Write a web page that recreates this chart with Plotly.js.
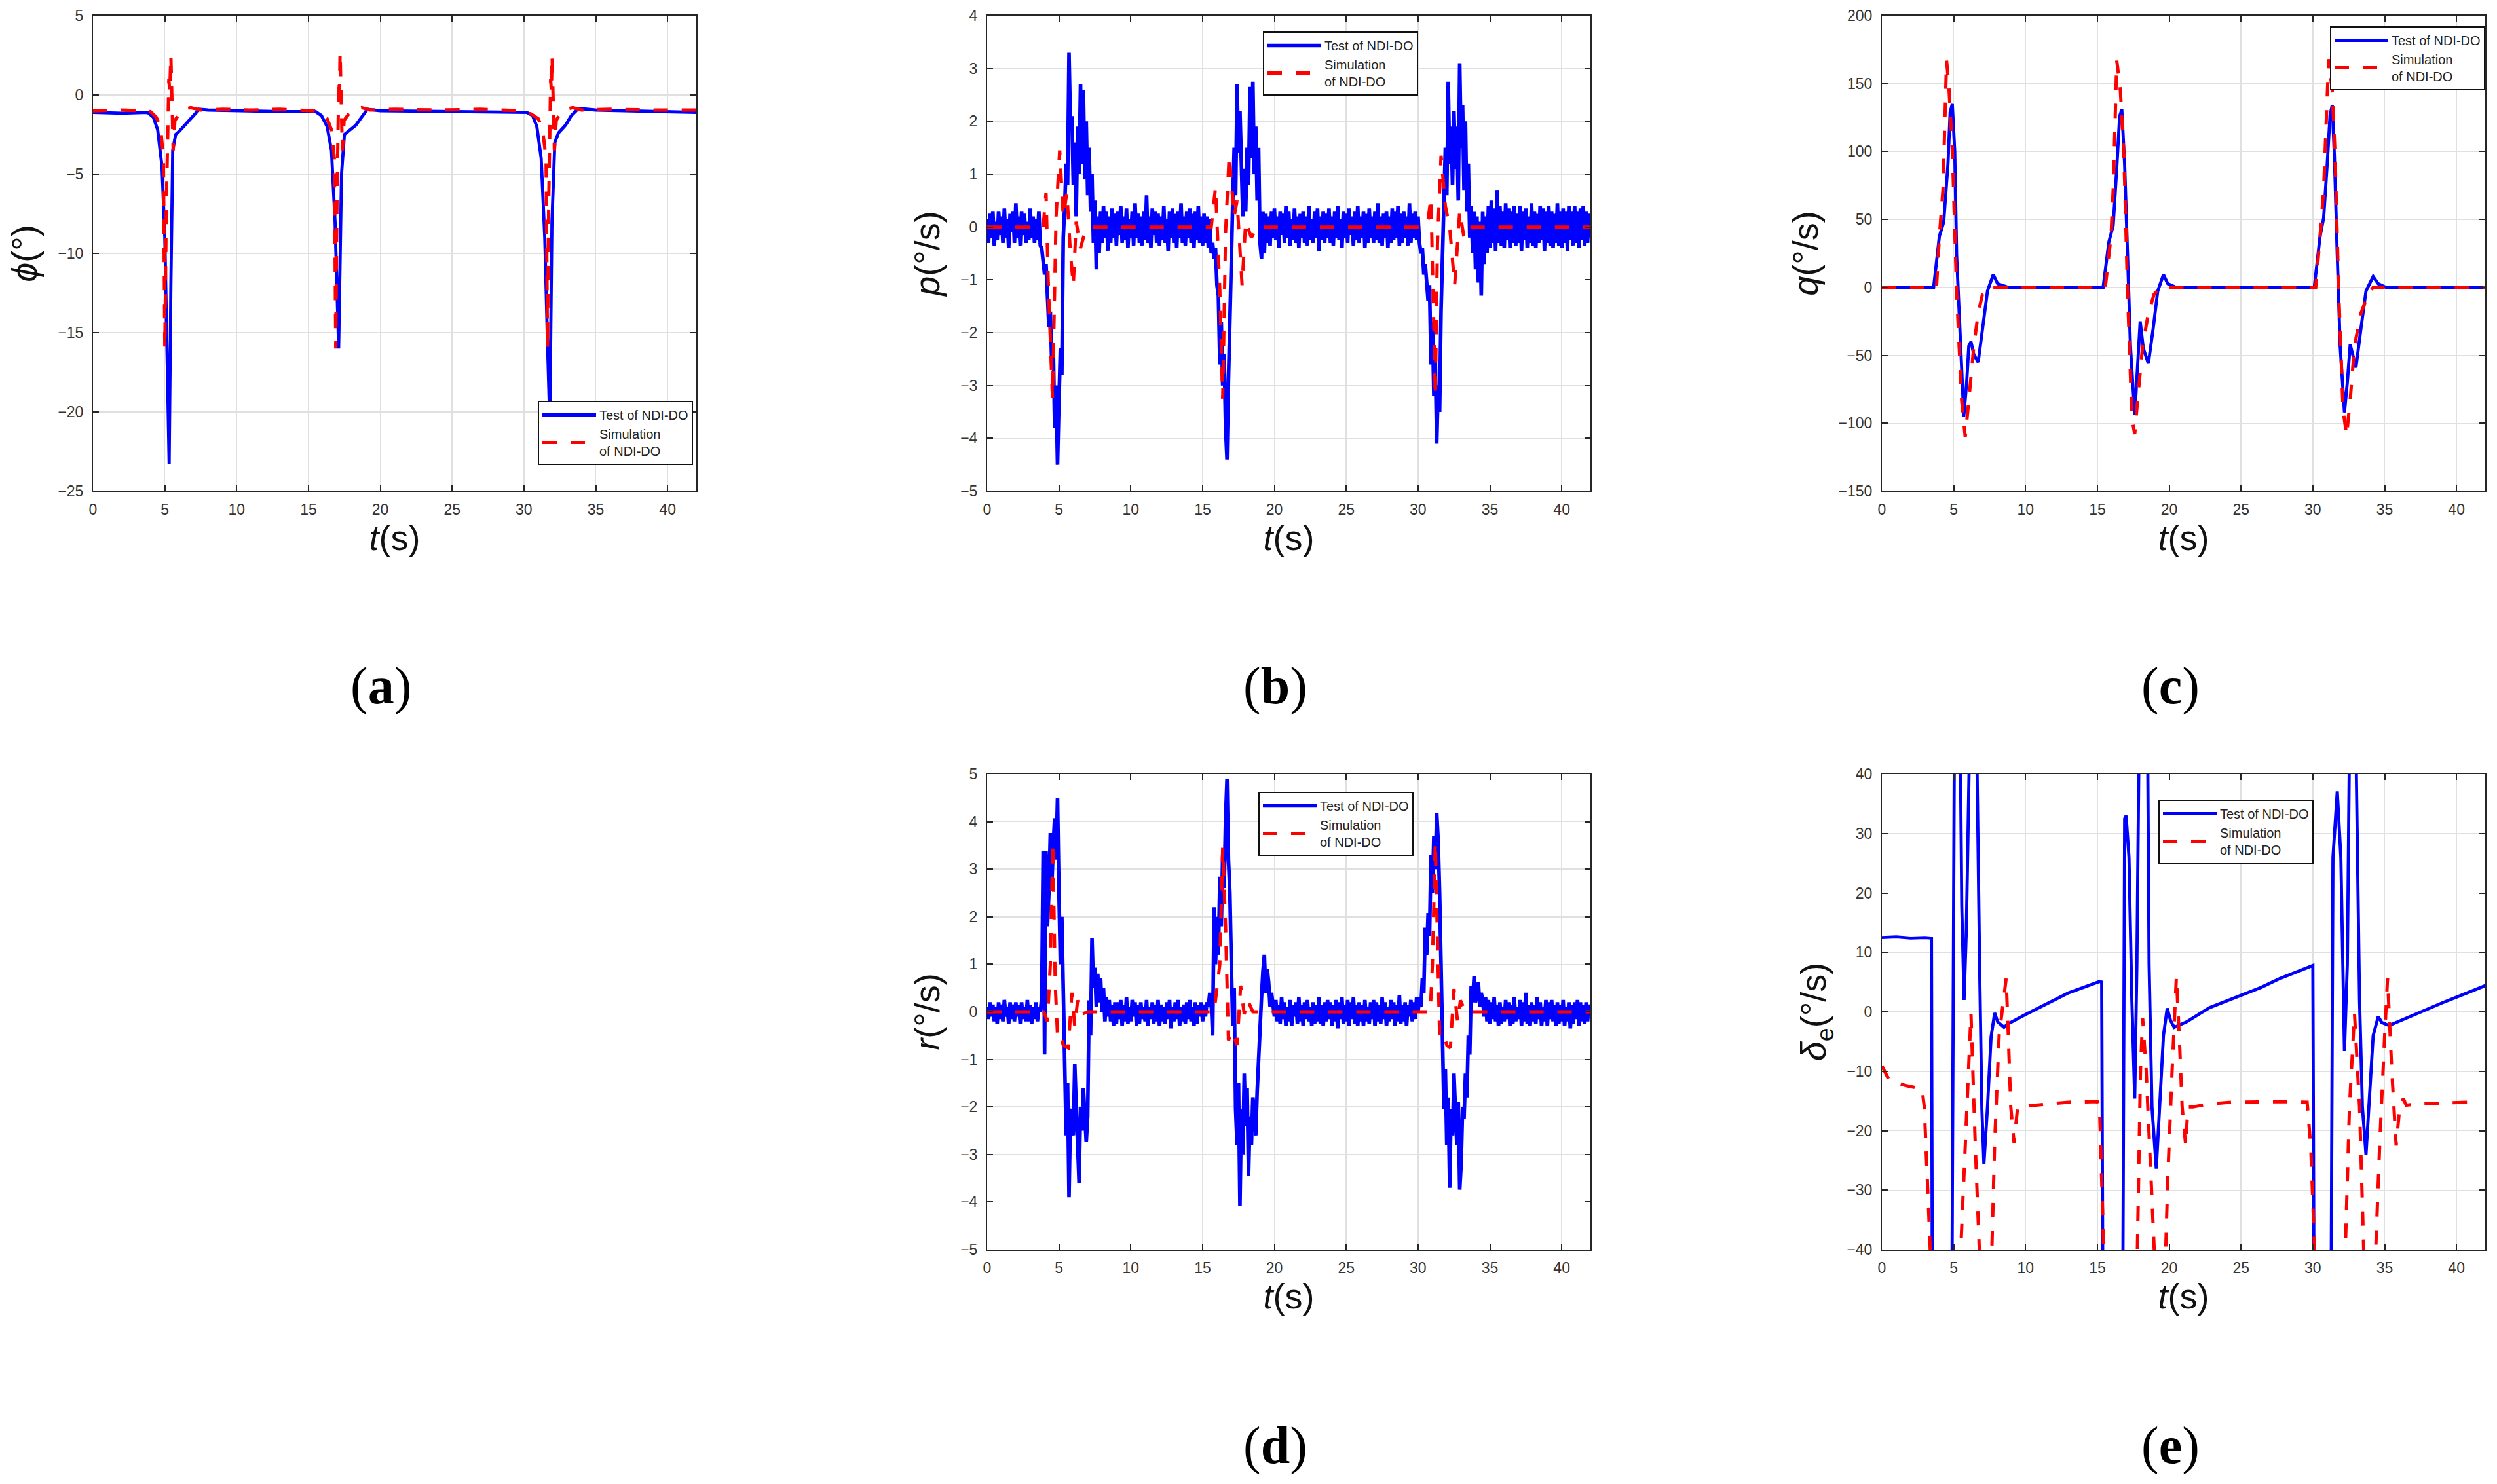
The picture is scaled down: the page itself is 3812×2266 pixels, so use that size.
<!DOCTYPE html>
<html><head><meta charset="utf-8">
<script src="https://cdn.plot.ly/plotly-3.0.1.min.js"></script>
<style>html,body{margin:0;padding:0;background:#fff;}#chart{width:3812px;height:2266px;}</style>
</head><body><div id="chart"></div>
<script>
// ---------------- DATA ----------------
const seriesNames = ['Test of NDI-DO', 'Simulation<br>of NDI-DO'];
const captions = ['a', 'b', 'c', 'd', 'e'];
const tTicks = [0, 5, 10, 15, 20, 25, 30, 35, 40];
const phiTicks = [-25, -20, -15, -10, -5, 0, 5];
const pTicks = [-5, -4, -3, -2, -1, 0, 1, 2, 3, 4];
const qTicks = [-150, -100, -50, 0, 50, 100, 150, 200];
const rTicks = [-5, -4, -3, -2, -1, 0, 1, 2, 3, 4, 5];
const deTicks = [-40, -30, -20, -10, 0, 10, 20, 30, 40];

// (a) roll angle phi
const phiTestT = [0,2,3.8,4.2,4.5,4.8,5.0,5.15,5.3,5.42,5.55,5.75,6.0,6.4,6.9,7.4,8,10,13,15.5,15.9,16.3,16.6,16.85,17.1,17.3,17.5,17.9,18.3,18.7,19.1,20,25,30.2,30.6,30.9,31.2,31.45,31.65,31.8,31.95,32.15,32.4,32.9,33.3,33.8,35,38,42];
const phiTestV = [-1.1,-1.15,-1.1,-1.4,-2.2,-4.5,-9,-16,-23.3,-12,-3.5,-2.5,-2.3,-1.9,-1.4,-0.9,-0.95,-1.0,-1.05,-1.05,-1.3,-2.0,-3.5,-8,-16,-5,-2.5,-2.2,-1.9,-1.4,-0.9,-1.0,-1.05,-1.1,-1.3,-2.0,-4.0,-9,-16,-20.6,-8,-3,-2.4,-1.9,-1.3,-0.85,-0.95,-1.0,-1.1];
const phiSimT = [0,2,3.5,4.0,4.4,4.7,4.9,5.0,5.1,5.2,5.28,5.34,5.42,5.5,5.58,5.7,6.0,6.4,6.8,7.5,9,11,13,15.4,15.9,16.3,16.6,16.8,16.9,16.98,17.05,17.11,17.16,17.2,17.28,17.36,17.48,17.8,18.2,18.7,19.3,21,24,27,29.9,30.5,31.0,31.3,31.54,31.64,31.72,31.8,31.86,31.91,31.96,32.04,32.12,32.25,32.5,32.9,33.4,34,36,39,42];
const phiSimV = [-1.0,-0.95,-1.0,-1.05,-1.4,-2.0,-4,-16,-7,-1,1.0,0.2,2.5,-0.5,-3.5,-1.6,-1.2,-0.9,-0.8,-0.95,-0.9,-0.95,-0.9,-1.0,-1.2,-1.5,-2.2,-4,-16,-7,-1,1.0,0.2,2.7,-0.5,-3.5,-1.6,-1.2,-0.9,-0.8,-0.95,-0.9,-0.95,-0.9,-1.0,-1.2,-1.5,-2.2,-4,-16,-7,-1,1.0,0.2,2.5,-0.5,-3.5,-1.6,-1.2,-0.9,-0.8,-0.95,-0.9,-0.95,-0.95];

// (b) roll rate p, test sampled every 0.1 s from t = 0
const pTestV = [
 0.15,-0.3,0.25,-0.2,0.3,-0.35,0.1,-0.25,0.3,-0.15,
 0.2,-0.3,0.35,-0.2,0.15,-0.4,0.25,-0.1,0.3,-0.3,
 0.45,-0.2,0.2,-0.35,0.3,-0.15,0.25,-0.3,0.1,-0.25,
 0.35,-0.2,0.2,-0.3,0.15,-0.25,0.3,-0.35,-0.4,-0.6,
 -0.9,-0.7,-1.3,-1.9,-1.6,-2.6,-2.2,-3.8,-3.0,-4.5,
 -3.3,-2.3,-2.8,-0.2,0.4,1.2,0.8,3.3,1.9,2.1,
 0.8,1.6,0.2,1.9,1.0,2.7,1.2,2.6,0.9,2.0,
 0.6,1.5,0.3,1.0,-0.3,0.5,-0.8,0.2,-0.5,0.3,
 -0.3,0.4,-0.2,0.3,-0.45,0.2,-0.3,0.35,-0.2,0.25,
 -0.35,0.3,-0.15,0.4,-0.3,0.2,-0.25,0.35,-0.4,0.15,
 -0.2,0.3,-0.35,0.45,-0.2,0.25,-0.3,0.2,-0.35,0.3,
 -0.25,0.6,-0.3,0.2,-0.4,0.35,-0.15,0.3,-0.3,0.25,
 -0.35,0.2,-0.25,0.4,-0.3,0.15,-0.45,0.3,-0.2,0.35,
 -0.3,0.25,-0.4,0.3,-0.2,0.45,-0.3,0.2,-0.35,0.3,
 -0.2,0.35,-0.3,0.25,-0.4,0.3,-0.25,0.4,-0.3,0.2,
 -0.35,0.25,-0.3,0.2,-0.4,0.15,-0.5,-0.3,-0.6,-0.4,
 -1.1,-1.3,-2.6,-1.8,-3.0,-2.4,-3.8,-4.4,-2.9,-1.5,
 -0.6,0.5,1.5,0.6,2.7,1.4,2.2,0.9,0.2,1.1,
 0.3,1.5,0.8,2.65,1.3,2.75,1.0,1.9,0.5,1.5,
 -0.3,-0.6,0.3,-0.5,0.25,-0.3,0.2,-0.35,0.3,-0.2,
 0.35,-0.25,0.2,-0.4,0.3,-0.15,0.25,-0.3,0.4,-0.2,
 0.3,-0.35,0.15,-0.25,0.35,-0.3,0.2,-0.4,0.25,-0.2,
 0.3,-0.3,0.2,-0.35,0.4,-0.25,0.15,-0.3,0.3,-0.2,
 0.35,-0.45,0.2,-0.25,0.3,-0.3,0.25,-0.2,0.35,-0.3,
 0.2,-0.35,0.3,-0.2,0.4,-0.25,0.15,-0.4,0.3,-0.2,
 0.25,-0.3,0.35,-0.15,0.2,-0.35,0.3,-0.25,0.4,-0.3,
 0.2,-0.2,0.3,-0.4,0.25,-0.3,0.35,-0.2,0.2,-0.3,
 0.3,-0.25,0.45,-0.3,0.2,-0.35,0.25,-0.2,0.3,-0.4,
 0.2,-0.3,0.35,-0.25,0.3,-0.2,0.4,-0.35,0.25,-0.3,
 0.3,-0.2,0.2,-0.35,0.45,-0.3,0.25,-0.2,0.3,-0.25,
 0.2,-0.3,-0.5,-0.4,-0.9,-0.7,-1.2,-1.4,-1.1,-2.6,
 -1.8,-3.2,-2.5,-4.1,-3.0,-3.5,-1.6,-0.4,0.8,1.5,
 0.6,2.75,1.2,1.9,0.8,2.2,1.1,1.9,0.5,3.1,
 1.5,2.3,0.7,2.0,0.3,1.2,-0.2,0.4,-0.5,0.3,
 -0.8,0.2,-1.05,0.1,-1.3,0.3,-0.7,0.2,-0.5,0.4,
 -0.4,0.5,-0.3,0.35,-0.45,0.7,-0.3,0.4,-0.35,0.3,
 -0.4,0.45,-0.25,0.35,-0.4,0.3,-0.3,0.4,-0.35,0.25,
 -0.3,0.4,-0.45,0.3,-0.25,0.35,-0.4,0.2,-0.3,0.45,
 -0.35,0.3,-0.4,0.25,-0.3,0.4,-0.25,0.35,-0.45,0.3,
 -0.3,0.4,-0.35,0.3,-0.4,0.25,-0.3,0.45,-0.35,0.3,
 -0.4,0.35,-0.3,0.3,-0.45,0.4,-0.25,0.3,-0.35,0.4,
 -0.3,0.3,-0.4,0.35,-0.25,0.4,-0.35,0.3,-0.3,0.25,
 -0.2];
const pSimT = [0,3.9,4.1,4.25,4.55,4.8,5.05,5.3,5.55,5.8,6.0,6.2,6.5,6.8,7.2,7.6,15.6,15.9,16.2,16.4,16.6,16.85,17.2,17.4,17.75,18.0,18.4,18.8,30.4,30.7,30.9,31.2,31.35,31.6,31.9,32.2,32.55,32.9,33.2,33.6,42];
const pSimV = [0,0,0.65,-1.0,-3.25,0.2,1.45,0.2,0.65,-0.5,-1.1,0.1,-0.4,-0.1,0,0,0,0.75,-1.2,-3.25,-0.1,1.35,0.2,0.5,-1.1,0.1,-0.2,0,0,0.15,0.55,-3.2,-0.3,1.35,0.4,0,-1.1,0.3,-0.2,0,0];

// (c) pitch rate q
const qTestT = [0,3.6,4.0,4.3,4.6,4.75,4.9,5.07,5.2,5.5,5.7,5.9,6.05,6.2,6.4,6.7,7.0,7.35,7.75,8.06,8.8,15.4,15.8,16.1,16.35,16.55,16.7,16.9,17.1,17.3,17.6,17.8,17.98,18.2,18.55,18.9,19.2,19.6,19.9,20.5,30.1,30.5,30.75,31.0,31.2,31.35,31.5,31.7,31.9,32.2,32.4,32.6,32.8,33.0,33.35,33.7,34.2,34.55,35.1,42];
const qTestV = [0,0,37.6,48,91,129,135,100,24,-56,-95,-70,-43,-40,-49.5,-55,-30,-2.6,9.4,2.7,0,0,33.5,45.6,88,126,131,90,24,-43,-94,-60,-25,-45,-56,-29,-2.7,9.4,2.7,0,0,37.5,51,91,127,134,97,24,-43,-92,-70,-42,-51,-59,-30,-2.7,8,2.7,0,0];
const qSimT = [0,3.8,4.0,4.25,4.5,4.65,4.9,5.2,5.55,5.8,6.05,6.4,6.7,7.0,7.35,15.55,15.95,16.1,16.35,16.6,16.85,17.1,17.4,17.6,17.8,18.15,18.55,18.95,19.4,30.2,30.5,30.75,31.1,31.35,31.55,31.8,32.1,32.35,32.6,32.9,33.35,33.85,34.2,42];
const qSimV = [0,0,37.5,72,167,150,102,-3,-83,-110,-83,-43,-19,-5,0,0,37.5,72,167,145,97,-3,-96,-108,-83,-43,-19,-5,0,0,37.5,72,168,145,97,-3,-90,-109,-83,-43,-19,-5,0,0];

// (d) yaw rate r, test sampled every 0.1 s from t = 0
const rTestV = [
 0.1,-0.15,0.2,-0.1,0.15,-0.2,0.1,-0.25,0.2,-0.15,
 0.15,-0.2,0.25,-0.1,0.1,-0.25,0.2,-0.15,0.15,-0.2,
 0.2,-0.1,0.15,-0.25,0.2,-0.15,0.1,-0.2,0.25,-0.2,
 0.15,-0.25,0.1,-0.15,0.2,-0.2,0.1,0.0,0.3,3.38,
 -0.9,3.38,1.8,2.5,3.76,2.6,3.5,4.07,3.2,4.5,
 2.5,1.0,2.0,0.2,-0.5,-2.6,-1.5,-3.9,-2.1,-2.05,
 -2.6,-1.1,-2.0,-2.8,-3.6,-2.0,-2.5,-1.6,-2.05,-2.74,
 -2.2,0.24,-0.5,1.55,0.5,0.93,0.1,0.8,0.2,0.7,
 0.0,0.5,-0.2,0.3,-0.1,0.25,-0.2,0.15,-0.3,0.2,
 -0.25,0.2,-0.15,0.25,-0.3,0.15,-0.2,0.3,-0.25,0.1,
 -0.2,0.25,-0.1,0.2,-0.3,0.15,-0.25,0.2,-0.15,0.1,
 -0.2,0.25,-0.3,0.1,-0.15,0.2,-0.25,0.15,-0.2,0.25,
 -0.3,0.15,-0.2,0.1,-0.25,0.2,-0.15,0.25,-0.35,0.1,
 -0.2,0.2,-0.15,0.25,-0.3,0.1,-0.2,0.15,-0.25,0.2,
 -0.15,0.25,-0.2,0.1,-0.3,0.2,-0.25,0.15,-0.1,0.2,
 -0.2,0.15,-0.1,0.2,0.1,0.4,0.2,-0.5,2.2,1.0,
 2.0,1.2,2.84,1.8,3.3,2.6,4.07,4.9,3.2,2.5,
 1.0,-0.3,0.5,-2.05,-2.8,-1.5,-4.08,-2.05,-3.0,-1.3,
 -2.4,-1.6,-3.45,-2.2,-2.8,-1.8,-2.05,-2.6,-1.67,-0.9,
 -0.5,0.3,0.85,1.2,0.4,0.9,0.62,0.1,0.4,0.2,
 -0.1,0.25,-0.2,0.15,-0.25,0.3,-0.15,0.2,-0.3,0.1,
 -0.2,0.25,-0.3,0.15,-0.1,0.2,-0.25,0.3,-0.2,0.15,
 -0.3,0.2,-0.15,0.25,-0.2,0.1,-0.3,0.2,-0.25,0.15,
 -0.2,0.3,-0.25,0.15,-0.3,0.2,-0.2,0.25,-0.15,0.2,
 -0.3,0.15,-0.2,0.25,-0.35,0.2,-0.15,0.3,-0.25,0.15,
 -0.2,0.25,-0.3,0.2,-0.15,0.3,-0.25,0.15,-0.3,0.2,
 -0.2,0.15,-0.3,0.25,-0.2,0.1,-0.25,0.2,-0.15,0.25,
 -0.3,0.2,-0.2,0.15,-0.25,0.3,-0.15,0.2,-0.3,0.1,
 -0.2,0.25,-0.15,0.2,-0.3,0.15,-0.2,0.35,-0.25,0.15,
 -0.2,0.2,-0.3,0.15,-0.1,0.25,-0.2,0.2,-0.15,0.3,
 0.0,0.3,0.1,0.7,0.4,1.77,1.2,2.08,1.6,3.3,
 2.5,3.7,3.0,4.18,3.6,2.5,1.0,-0.5,-2.05,-1.2,
 -2.8,-1.8,-3.7,-2.05,-2.6,-1.3,-2.2,-2.8,-1.9,-3.74,
 -3.2,-2.0,-2.25,-1.3,-1.8,-0.5,-0.9,0.55,0.2,0.74,
 0.2,0.5,0.62,0.1,0.4,0.24,-0.1,0.3,-0.2,0.25,
 -0.25,0.2,-0.15,0.3,-0.2,0.15,-0.3,0.2,-0.25,0.1,
 -0.2,0.25,-0.15,0.2,-0.3,0.15,-0.25,0.3,-0.2,0.1,
 -0.15,0.25,-0.3,0.2,-0.2,0.4,-0.25,0.15,-0.3,0.2,
 -0.2,0.15,-0.25,0.3,-0.15,0.2,-0.3,0.1,-0.2,0.25,
 -0.3,0.2,-0.15,0.25,-0.2,0.15,-0.3,0.2,-0.25,0.15,
 -0.2,0.25,-0.3,0.1,-0.2,0.2,-0.35,0.15,-0.25,0.2,
 -0.15,0.25,-0.3,0.2,-0.2,0.15,-0.25,0.2,-0.2,0.15,
 -0.1];
const rSimT = [0,3.95,4.2,4.4,4.57,4.74,4.9,5.07,5.3,5.65,5.9,6.1,6.3,6.6,7.0,15.8,16.2,16.4,16.6,16.8,17.05,17.4,17.65,17.9,18.15,18.5,30.85,31.0,31.2,31.35,31.5,31.75,32.0,32.25,32.5,32.75,32.95,33.3,42];
const rSimV = [0,0,-0.2,1.0,3.57,0.6,-0.5,-0.45,-0.7,-0.76,0.4,-0.3,0.24,-0.05,0,0,1.0,3.45,1.8,-0.6,-0.4,-0.7,0.55,-0.05,0.24,0,0,1.0,3.57,1.8,-0.5,-0.45,-0.7,-0.76,0.48,-0.2,0.24,0,0];

// (e) elevator deflection delta_e (values beyond +/-40 leave the frame)
const deTestT = [0,1,2,3,3.45,3.52,4.85,5.07,5.4,5.56,5.72,5.88,6.1,6.6,6.8,6.96,7.1,7.35,7.6,7.85,8.06,8.5,8.65,8.8,9.95,11.4,13.0,15.15,15.3,15.4,16.75,16.9,17.0,17.2,17.4,17.6,17.75,17.9,18.5,18.6,18.8,19.1,19.35,19.6,19.86,20.1,20.35,21.2,22.8,24.4,26.4,27.7,29.0,29.9,30.0,30.1,31.25,31.4,31.7,31.95,32.2,32.4,32.55,33.0,33.25,33.45,33.7,33.9,34.2,34.55,34.8,35.3,37,39,42];
const deTestV = [12.5,12.6,12.4,12.5,12.4,-60,-60,60,60,17.8,2,14,45,45,8,-16.4,-25.6,-16,-4.2,-0.2,-1.7,-2.6,-2.3,-2,-0.5,1.3,3.2,5.1,5.0,-60,-60,32.5,33,26,2,-14.6,8,45,45,8,-16,-26.4,-16,-4,0.6,-1.5,-2.6,-1.7,0.7,2.2,4.1,5.6,6.8,7.7,7.8,-60,-60,26,37.1,26,-6.6,8,45,45,2,-16,-24,-16,-4,-0.8,-1.8,-2.3,-0.5,1.5,4.4];
const deSimT = [0,0.5,1.65,2.8,2.95,3.2,3.45,5.4,5.8,6.2,6.5,6.86,7.6,7.85,8.16,8.65,8.8,8.97,9.2,9.45,9.8,11.4,13,15.0,15.15,15.5,17.75,18.0,18.15,18.4,18.7,19.05,19.7,19.9,20.2,20.5,20.7,20.9,21.15,21.3,21.65,22.8,24.4,27.7,29.6,29.85,30.2,32.2,32.55,32.9,33.25,33.6,34.3,34.65,35.0,35.2,35.5,35.8,36.05,36.3,36.5,37.4,40.8];
const deSimV = [-9.1,-11.5,-12.4,-13,-16,-31.7,-45,-45,-22.5,-0.3,-22.5,-45,-45,-22,-4,5.6,-4,-16,-22,-16,-15.9,-15.5,-15.2,-15.1,-16,-45,-45,-10,-1,-10,-28,-45,-45,-28,-10,5.9,-4,-16,-22.5,-16,-16,-15.5,-15.2,-15.1,-15.2,-22.5,-45,-45,-16,-0.3,-16,-45,-45,-22.5,-4,5.6,-10,-22.5,-16,-14.6,-15.7,-15.5,-15.2];

// ---------------- STYLE ----------------
const FONT = 'Liberation Sans, Arial, Helvetica, sans-serif';
const BLUE = '#0000ff', RED = '#ff0000';
const blueLine = {color: BLUE, width: 4.8};
const blueNoisyLine = {color: BLUE, width: 5.6};
const redLine = {color: RED, width: 5, dash: '22px,21px'};
const legendIds = ['legend', 'legend2', 'legend3', 'legend4', 'legend5'];

function pair(i, testTrace, simT, simV, noisy) {
  const ax = i === 0 ? '' : String(i + 1);
  return [
    Object.assign({type: 'scatter', mode: 'lines', name: seriesNames[0], line: noisy ? blueNoisyLine : blueLine,
      xaxis: 'x' + ax, yaxis: 'y' + ax, legend: legendIds[i], hoverinfo: 'skip'}, testTrace),
    {type: 'scatter', mode: 'lines', name: seriesNames[1], line: redLine, x: simT, y: simV,
      xaxis: 'x' + ax, yaxis: 'y' + ax, legend: legendIds[i], hoverinfo: 'skip'}
  ];
}

const data = [].concat(
  pair(0, {x: phiTestT, y: phiTestV}, phiSimT, phiSimV, false),
  pair(1, {x0: 0, dx: 0.1, y: pTestV}, pSimT, pSimV, true),
  pair(2, {x: qTestT, y: qTestV}, qSimT, qSimV, false),
  pair(3, {x0: 0, dx: 0.1, y: rTestV}, rSimT, rSimV, true),
  pair(4, {x: deTestT, y: deTestV}, deSimT, deSimV, false)
);

const W = 3812, H = 2266;
const colX = [[142, 1063], [1507, 2428], [2873, 3794], [1507, 2428], [2873, 3794]];
const rowY = [[24, 750], [24, 750], [24, 750], [1182, 1908], [1182, 1908]];
const yRanges = [[-25, 5], [-5, 4], [-150, 200], [-5, 5], [-40, 40]];
const yTickSets = [phiTicks, pTicks, qTicks, rTicks, deTicks];
const yTitles = ['<i>ϕ</i>(°)', '<i>p</i>(°/s)', '<i>q</i>(°/s)', '<i>r</i>(°/s)', '<i>δ</i><sub>e</sub>(°/s)'];

const axisBase = {
  showline: true, linecolor: '#262626', linewidth: 2, mirror: 'ticks',
  ticks: 'inside', ticklen: 9, tickwidth: 2, tickcolor: '#262626',
  showgrid: true, gridcolor: '#e0e0e0', gridwidth: 1.5, zeroline: false,
  tickfont: {family: FONT, size: 23, color: '#333333'}, fixedrange: true
};

const layout = {
  width: W, height: H, margin: {l: 0, r: 0, t: 0, b: 0},
  paper_bgcolor: '#ffffff', plot_bgcolor: '#ffffff', showlegend: true,
  font: {family: FONT, color: '#111'}, annotations: []
};

const legendPos = [
  {x: 1058, y: 710, xa: 'right', ya: 'bottom'},
  {x: 1928, y: 48, xa: 'left', ya: 'top'},
  {x: 3794, y: 40, xa: 'right', ya: 'top'},
  {x: 1921, y: 1209, xa: 'left', ya: 'top'},
  {x: 3295, y: 1221, xa: 'left', ya: 'top'}
];
const captionPos = [[581, 1047], [1947, 1047], [3313, 1047], [1947, 2207], [3313, 2207]];

for (let i = 0; i < 5; i++) {
  const s = i === 0 ? '' : String(i + 1);
  layout['xaxis' + s] = Object.assign({}, axisBase, {
    domain: [colX[i][0] / W, colX[i][1] / W], anchor: 'y' + s,
    range: [0, 42], tickvals: tTicks, ticklabelstandoff: 6,
    title: {text: '<i>t</i>(s)', font: {family: FONT, size: 54, color: '#111'}, standoff: 1}
  });
  layout['yaxis' + s] = Object.assign({}, axisBase, {
    domain: [1 - rowY[i][1] / H, 1 - rowY[i][0] / H], anchor: 'x' + s,
    range: yRanges[i], tickvals: yTickSets[i], ticklabelstandoff: 8,
    title: {text: yTitles[i], font: {family: FONT, size: 54, color: '#111'}, standoff: 14}
  });
  layout[legendIds[i]] = {
    x: legendPos[i].x / W, y: 1 - legendPos[i].y / H,
    xanchor: legendPos[i].xa, yanchor: legendPos[i].ya,
    bgcolor: '#ffffff', bordercolor: '#111111', borderwidth: 2,
    font: {family: FONT, size: 20, color: '#222'}, itemwidth: 82,
    tracegroupgap: 0, itemclick: false, itemdoubleclick: false
  };
  layout.annotations.push({
    xref: 'paper', yref: 'paper', x: captionPos[i][0] / W, y: 1 - captionPos[i][1] / H,
    xanchor: 'center', yanchor: 'middle', showarrow: false,
    text: '(<b>' + captions[i] + '</b>)',
    font: {family: 'Liberation Serif, Times New Roman, serif', size: 80, color: '#000'}
  });
}

Plotly.newPlot('chart', data, layout, {staticPlot: true, displayModeBar: false});
</script>
</body></html>
